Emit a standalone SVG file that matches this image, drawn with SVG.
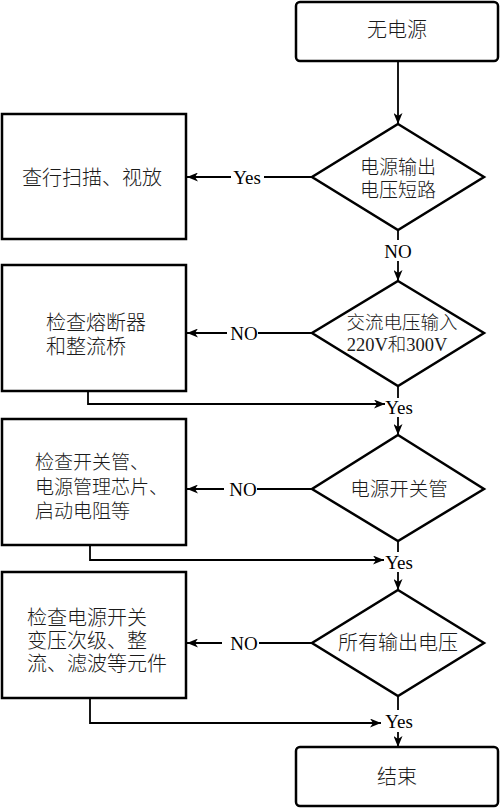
<svg xmlns="http://www.w3.org/2000/svg" width="500" height="808" viewBox="0 0 500 808">
<style>
.box{fill:#fff;stroke:#000;stroke-width:2.5}
.dia{fill:#fff;stroke:#000;stroke-width:2.5}
.ln{fill:none;stroke:#000;stroke-width:1.8}
.t{font-family:"Liberation Serif","Noto Sans CJK SC",serif;font-weight:300;fill:#1a1a1a;dominant-baseline:central}
.c{text-anchor:middle}
.lbl{font-family:"Liberation Serif","Noto Sans CJK SC",serif;font-size:19px;fill:#000;text-anchor:middle;dominant-baseline:central}
</style>
<defs>
<marker id="ah" markerUnits="userSpaceOnUse" markerWidth="12" markerHeight="9" refX="11" refY="4.5" orient="auto">
<path d="M0,0 L11,4.5 L0,9 L3,4.5 z" fill="#000"/>
</marker>
</defs>
<rect width="500" height="808" fill="#fff"/>
<g id="start">
<rect class="box" x="296" y="2" width="202" height="59" rx="4"/>
<text class="t c" x="397" y="30" font-size="20">无电源</text>
</g>
<g id="d1">
<polygon class="dia" points="398,124 484,177 398,230 312,177"/>
<text class="t c" x="398" y="167" font-size="19">电源输出</text>
<text class="t c" x="398" y="190" font-size="19">电压短路</text>
</g>
<g id="b1">
<rect class="box" x="2" y="114" width="184" height="125"/>
<text class="t c" x="92" y="178" font-size="20">查行扫描、视放</text>
</g>
<g id="d2">
<polygon class="dia" points="398,281 484,333 398,386 312,333"/>
<text class="t c" x="402" y="323" font-size="18.5">交流电压输入</text>
<text class="t c" x="397" y="345" font-size="18.5">220V和300V</text>
</g>
<g id="b2">
<rect class="box" x="2" y="265" width="184" height="126"/>
<text class="t" x="46" y="323" font-size="20">检查熔断器</text>
<text class="t" x="46" y="347" font-size="20">和整流桥</text>
</g>
<g id="d3">
<polygon class="dia" points="398,435 484,489 398,541 312,489"/>
<text class="t c" x="399" y="489" font-size="19.5">电源开关管</text>
</g>
<g id="b3">
<rect class="box" x="2" y="419" width="184" height="126"/>
<text class="t" x="35" y="462" font-size="19">检查开关管、</text>
<text class="t" x="35" y="487" font-size="19">电源管理芯片、</text>
<text class="t" x="35" y="511" font-size="19">启动电阻等</text>
</g>
<g id="d4">
<polygon class="dia" points="398,590 484,643 398,696 312,643"/>
<text class="t c" x="398" y="643" font-size="20">所有输出电压</text>
</g>
<g id="b4">
<rect class="box" x="2" y="572" width="184" height="126"/>
<text class="t" x="27" y="618" font-size="20">检查电源开关</text>
<text class="t" x="27" y="641" font-size="20">变压次级、整</text>
<text class="t" x="27" y="664" font-size="20">流、滤波等元件</text>
</g>
<g id="end">
<rect class="box" x="296" y="747" width="202" height="59" rx="4"/>
<text class="t c" x="397" y="777" font-size="20">结束</text>
</g>
<g id="connectors">
<line class="ln" x1="398" y1="61" x2="398" y2="124" marker-end="url(#ah)"/>
<line class="ln" x1="312" y1="177" x2="264" y2="177"/>
<text class="lbl" x="247" y="177">Yes</text>
<line class="ln" x1="231" y1="177" x2="187" y2="177" marker-end="url(#ah)"/>
<line class="ln" x1="398" y1="230" x2="398" y2="240"/>
<text class="lbl" x="398" y="251">NO</text>
<line class="ln" x1="398" y1="261" x2="398" y2="281" marker-end="url(#ah)"/>
<line class="ln" x1="312" y1="333" x2="258" y2="333"/>
<text class="lbl" x="244" y="333">NO</text>
<line class="ln" x1="227" y1="333" x2="187" y2="333" marker-end="url(#ah)"/>
<line class="ln" x1="398" y1="386" x2="398" y2="398"/>
<text class="lbl" x="399" y="407">Yes</text>
<polyline class="ln" points="88,391 88,404 385,404" marker-end="url(#ah)"/>
<line class="ln" x1="398" y1="417" x2="398" y2="435" marker-end="url(#ah)"/>
<line class="ln" x1="312" y1="489" x2="257" y2="489"/>
<text class="lbl" x="243" y="489">NO</text>
<line class="ln" x1="224" y1="489" x2="187" y2="489" marker-end="url(#ah)"/>
<line class="ln" x1="398" y1="541" x2="398" y2="552"/>
<text class="lbl" x="399" y="562">Yes</text>
<polyline class="ln" points="90,545 90,560 384,560" marker-end="url(#ah)"/>
<line class="ln" x1="398" y1="572" x2="398" y2="590" marker-end="url(#ah)"/>
<line class="ln" x1="312" y1="643" x2="259" y2="643"/>
<text class="lbl" x="244" y="643">NO</text>
<line class="ln" x1="222" y1="643" x2="187" y2="643" marker-end="url(#ah)"/>
<line class="ln" x1="398" y1="696" x2="398" y2="710"/>
<text class="lbl" x="399" y="721">Yes</text>
<polyline class="ln" points="90,698 90,723 381,723" marker-end="url(#ah)"/>
<line class="ln" x1="398" y1="732" x2="398" y2="747" marker-end="url(#ah)"/>
</g>
</svg>
